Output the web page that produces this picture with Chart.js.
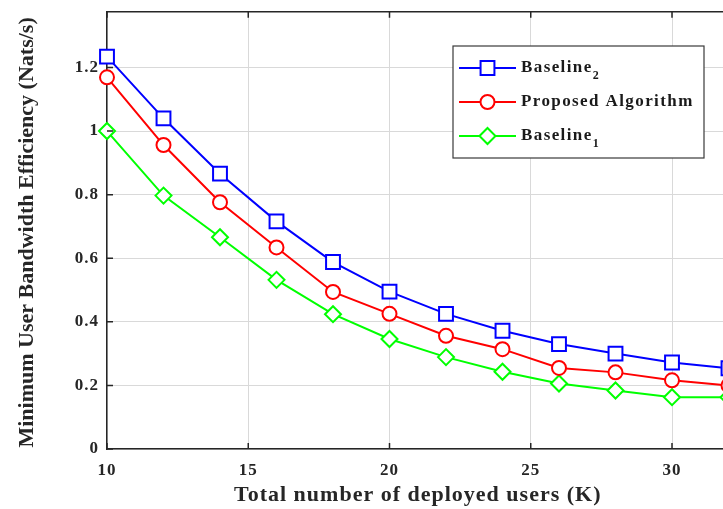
<!DOCTYPE html>
<html>
<head>
<meta charset="utf-8">
<script src="https://cdn.jsdelivr.net/npm/chart.js@4.4.1/dist/chart.umd.min.js"></script>
<style>
  html, body { margin: 0; padding: 0; overflow: hidden; background: #fff; }
  #wrap { position: absolute; left: 0; top: 0; width: 745px; height: 509px; }
</style>
</head>
<body>
<div id="wrap"><canvas id="effChart" width="745" height="509"></canvas></div>
<script>
// K values (x axis)
const xValues = [10, 12, 14, 16, 18, 20, 22, 24, 26, 28, 30, 32];
const baseline2 = [1.234, 1.04, 0.866, 0.716, 0.588, 0.495, 0.425, 0.372, 0.330, 0.300, 0.272, 0.254];
const proposed = [1.169, 0.956, 0.776, 0.634, 0.494, 0.425, 0.356, 0.314, 0.255, 0.241, 0.216, 0.200];
const baseline1 = [1.0, 0.797, 0.666, 0.532, 0.424, 0.346, 0.289, 0.243, 0.206, 0.184, 0.163, 0.163];
const seriesNames = ['Baseline₂', 'Proposed Algorithm', 'Baseline₁'];
const xTicks = [10, 15, 20, 25, 30];
const yTicks = [0, 0.2, 0.4, 0.6, 0.8, 1, 1.2];
const xTitle = 'Total number of deployed users (K)';
const yTitle = 'Minimum User Bandwidth Efficiency (Nats/s)';

const serif = "'Liberation Serif', 'Times New Roman', serif";
const ink = '#262626';

function pts(vals) {
  return xValues.map((x, i) => ({ x: x, y: vals[i] }));
}

const effData = {
  datasets: [
    {
      label: seriesNames[0],
      data: pts(baseline2),
      borderColor: '#0000ff',
      pointStyle: 'rect',
      pointRadius: 9.8
    },
    {
      label: seriesNames[1],
      data: pts(proposed),
      borderColor: '#ff0000',
      pointStyle: 'circle',
      pointRadius: 7
    },
    {
      label: seriesNames[2],
      data: pts(baseline1),
      borderColor: '#00ff00',
      pointStyle: 'rectRot',
      pointRadius: 8
    }
  ]
};
effData.datasets.forEach(ds => {
  ds.borderWidth = 2;
  ds.pointBorderWidth = 2;
  ds.pointBorderColor = ds.borderColor;
  ds.pointBackgroundColor = '#ffffff';
  ds.tension = 0;
  ds.clip = false;
});

// the reference text is a bit wide, spread the letters a little
const spacing = {
  id: 'spacing',
  beforeDraw(chart) {
    chart.ctx.letterSpacing = '1px';
  }
};

// box border on top + inward tick marks (matlab look) + rotated y title
const frameTicks = {
  id: 'frameTicks',
  afterDatasetsDraw(chart) {
    const { ctx, chartArea: a, scales } = chart;
    ctx.save();
    ctx.strokeStyle = ink;
    ctx.lineWidth = 1.5;
    ctx.beginPath();
    ctx.moveTo(a.left, a.top);
    ctx.lineTo(a.right, a.top);
    ctx.stroke();
    ctx.beginPath();
    xTicks.forEach(v => {
      const px = scales.x.getPixelForValue(v);
      ctx.moveTo(px, a.bottom); ctx.lineTo(px, a.bottom - 6);
      ctx.moveTo(px, a.top); ctx.lineTo(px, a.top + 6);
    });
    yTicks.forEach(v => {
      const py = scales.y.getPixelForValue(v);
      ctx.moveTo(a.left, py); ctx.lineTo(a.left + 6, py);
    });
    ctx.stroke();

    ctx.letterSpacing = '0px';
    ctx.translate(33, (a.top + a.bottom) / 2 + 2);
    ctx.rotate(-Math.PI / 2);
    ctx.fillStyle = ink;
    ctx.font = 'bold 22px ' + serif;
    ctx.textAlign = 'center';
    ctx.textBaseline = 'alphabetic';
    ctx.fillText(yTitle, 0, 0);
    ctx.restore();
  }
};

// legend box in the upper right
const subDigits = '₀₁₂₃₄₅₆₇₈₉';
const boxLegend = {
  id: 'boxLegend',
  afterDraw(chart) {
    const ctx = chart.ctx;
    const bx = 453, by = 46, bw = 251, bh = 112;
    ctx.save();
    ctx.fillStyle = '#ffffff';
    ctx.fillRect(bx, by, bw, bh);
    ctx.strokeStyle = '#3a3a3a';
    ctx.lineWidth = 1.2;
    ctx.strokeRect(bx, by, bw, bh);
    chart.data.datasets.forEach((ds, i) => {
      const y = 68 + i * 34;
      ctx.strokeStyle = ds.borderColor;
      ctx.lineWidth = 2;
      ctx.beginPath();
      ctx.moveTo(459, y); ctx.lineTo(516, y);
      ctx.stroke();
      ctx.fillStyle = '#ffffff';
      Chart.helpers.drawPoint(ctx, {
        pointStyle: ds.pointStyle, radius: ds.pointRadius, borderWidth: 2, rotation: 0
      }, 487.5, y);
      let label = ds.label;
      let sub = '';
      const last = label.slice(-1);
      if (subDigits.includes(last)) {
        sub = String(subDigits.indexOf(last));
        label = label.slice(0, -1);
      }
      ctx.fillStyle = '#1a1a1a';
      ctx.letterSpacing = '1.4px';
      ctx.font = 'bold 17px ' + serif;
      ctx.textBaseline = 'middle';
      ctx.textAlign = 'left';
      ctx.fillText(label, 521, y);
      if (sub) {
        const w = ctx.measureText(label).width;
        ctx.font = 'bold 12px ' + serif;
        ctx.fillText(sub, 521 + w, y + 8);
      }
    });
    ctx.restore();
  }
};

const tickFont = { family: serif, size: 17, weight: 'bold' };

// let the layout padding alone decide the plot box
function noEdgePad(s) {
  s.paddingTop = 0;
  s.paddingBottom = 0;
  s.paddingLeft = 0;
  s.paddingRight = 0;
}

const effConfig = {
  type: 'line',
  data: effData,
  options: {
    responsive: false,
    animation: false,
    layout: {
      padding: { left: 0, top: 10, right: 16.5, bottom: 0 }
    },
    plugins: {
      legend: { display: false },
      tooltip: { enabled: false }
    },
    scales: {
      x: {
        type: 'linear',
        min: 10,
        max: 32,
        afterBuildTicks: s => { s.ticks = xTicks.map(v => ({ value: v })); },
        afterFit: s => { s.height = 60; noEdgePad(s); },
        grid: { color: '#d9d9d9', lineWidth: 1, drawTicks: false },
        border: { color: ink, width: 1.5 },
        ticks: {
          padding: 11,
          color: ink,
          font: tickFont,
          callback: v => String(v)
        },
        title: {
          display: true,
          text: xTitle,
          color: ink,
          padding: { top: 0, bottom: 0 },
          font: { family: serif, size: 22, weight: 'bold' }
        }
      },
      y: {
        min: 0,
        max: 1.375,
        afterBuildTicks: s => { s.ticks = yTicks.map(v => ({ value: v })); },
        afterFit: s => { s.width = 107; noEdgePad(s); },
        grid: { color: '#d9d9d9', lineWidth: 1, drawTicks: false },
        border: { color: ink, width: 1.5 },
        ticks: {
          padding: 8,
          color: ink,
          font: tickFont,
          callback: v => String(v)
        },
        title: { display: false }
      }
    }
  },
  plugins: [spacing, frameTicks, boxLegend]
};

const effChart = new Chart(document.getElementById('effChart'), effConfig);
</script>
</body>
</html>
